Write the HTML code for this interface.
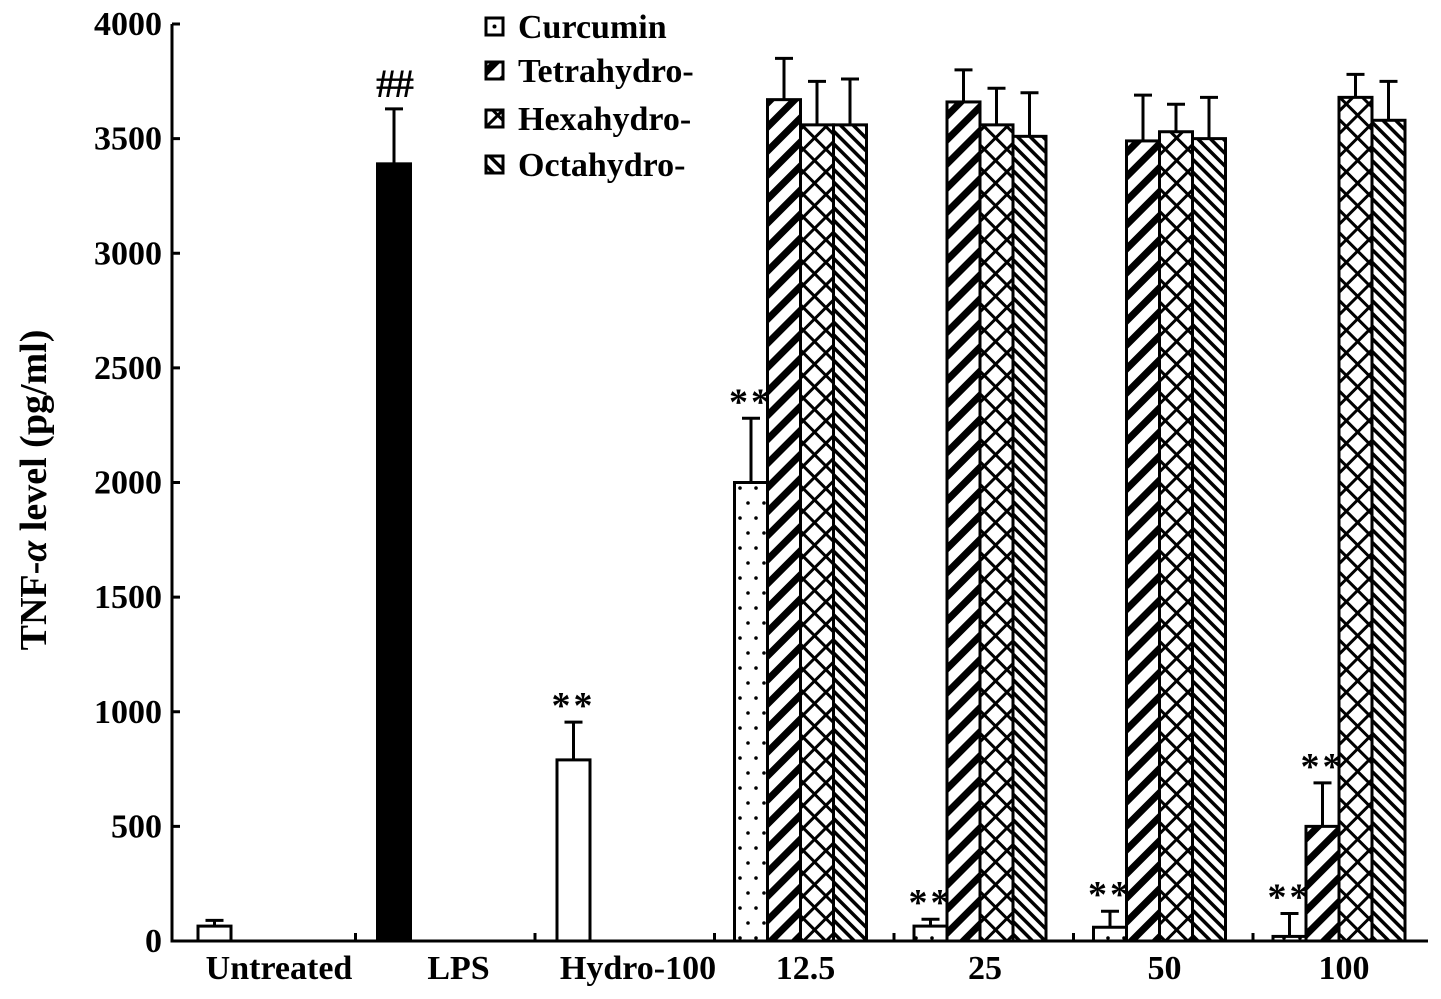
<!DOCTYPE html>
<html><head><meta charset="utf-8"><style>
body{margin:0;background:#fff}
svg{display:block;font-family:"Liberation Serif",serif;font-weight:bold}
</style></head><body>
<svg id="c" width="1441" height="999">
<defs>
<pattern id="pDot" width="16" height="30" patternUnits="userSpaceOnUse"><circle cx="4" cy="8" r="1.8" fill="#000"/><circle cx="12" cy="23" r="1.8" fill="#000"/></pattern>
<pattern id="pTetra" width="17" height="17" patternUnits="userSpaceOnUse" patternTransform="rotate(45)"><rect width="17" height="17" fill="#fff"/><rect width="7" height="17" fill="#000"/></pattern>
<pattern id="pHexa" width="16" height="16" patternUnits="userSpaceOnUse" patternTransform="rotate(45)"><rect width="16" height="16" fill="#fff"/><rect width="3" height="16" fill="#000"/><rect width="16" height="3" fill="#000"/></pattern>
<pattern id="pOcta" width="9" height="9" patternUnits="userSpaceOnUse" patternTransform="rotate(-45)"><rect width="9" height="9" fill="#fff"/><rect width="3.5" height="9" fill="#000"/></pattern>
</defs>
</svg>
<script>
const yTicks=[0,500,1000,1500,2000,2500,3000,3500,4000];
const singleLabels=["Untreated","LPS","Hydro-100"];
const singleVals=[65,3390,790];
const singleErr=[25,240,165];
const singleStars=["","##","**"];
const doseLabels=["12.5","25","50","100"];
const curcumin=[2000,65,60,20];
const curcuminErr=[280,30,70,100];
const tetra=[3670,3660,3490,500];
const tetraErr=[180,140,200,190];
const hexa=[3560,3560,3530,3680];
const hexaErr=[190,160,120,100];
const octa=[3560,3510,3500,3580];
const octaErr=[200,190,180,170];
const doseStars=[["**","","",""],["**","","",""],["**","","",""],["**","**","",""]];
const seriesNames=["Curcumin","Tetrahydro-","Hexahydro-","Octahydro-"];

const svg=document.getElementById('c');
const NS="http://www.w3.org/2000/svg";
function el(t,a,p){const e=document.createElementNS(NS,t);for(const k in a)e.setAttribute(k,a[k]);(p||svg).appendChild(e);return e;}
const X0=172,X1=1428,Y0=941,Y1=24;
const y=v=>Y0-(v/4000)*(Y0-Y1);
const groupStart=i=>X0+i*179.5;
const BW=33;

yTicks.forEach(t=>{
  const tk=el('line',{x1:X0,x2:X0+8,y1:y(t),y2:y(t),stroke:'#000','stroke-width':3});
  
  const tx=el('text',{x:X0-10,y:y(t)+11,'text-anchor':'end','font-size':34});
  tx.textContent=t;
  
});
const yl=el('text',{transform:'translate(46,490) rotate(-90)','text-anchor':'middle','font-size':38});
yl.innerHTML='TNF-<tspan font-style="italic">α</tspan> level (pg/ml)';


function bar(x,v,err,fill,star,name){
  const r=el('rect',{x:x,y:y(v),width:BW,height:Y0-y(v),fill:fill,stroke:'#000','stroke-width':3});
  
  const cx=x+BW/2;
  const e=el('path',{d:`M${cx},${y(v)}V${y(v+err)}M${cx-9},${y(v+err)}H${cx+9}`,stroke:'#000','stroke-width':3,fill:'none'});
  
  if(star){
    const s=el('text',{x:cx,y:y(v+err)-(star=='##'?12:4),'text-anchor':'middle','font-size':star=='##'?40:38,'letter-spacing':star=='##'?-2:3});
    s.textContent=star;
    
  }
}
singleVals.forEach((v,i)=>{
  const x=groupStart(i)+26;
  bar(x,v,singleErr[i],i==1?'#000':'#fff',singleStars[i],'bar-'+singleLabels[i].toLowerCase());
  const t=el('text',{x:groupStart(i)+107,y:979,'text-anchor':'middle','font-size':34});
  t.textContent=singleLabels[i];
  
});
const fills=['url(#pDot)','url(#pTetra)','url(#pHexa)','url(#pOcta)'];
const sv=[curcumin,tetra,hexa,octa],se=[curcuminErr,tetraErr,hexaErr,octaErr];
doseLabels.forEach((d,i)=>{
  const gs=groupStart(i+3)+24;
  for(let s=0;s<4;s++){
    if(s==0) el('rect',{x:gs,y:y(sv[0][i]),width:BW,height:Y0-y(sv[0][i]),fill:'#fff'});
    bar(gs+s*BW,sv[s][i],se[s][i],fills[s],doseStars[i][s],'bar-'+seriesNames[s].replace('-','').toLowerCase()+'-'+d);
  }
  const t=el('text',{x:gs+2*BW+5,y:979,'text-anchor':'middle','font-size':34});
  t.textContent=d;
  
});
const ax=el('path',{d:`M${X0},${Y1}V${Y0}H${X1}`,stroke:'#000','stroke-width':3,fill:'none'});

for(let i=1;i<=6;i++){
  const t=el('line',{x1:groupStart(i)+4,x2:groupStart(i)+4,y1:Y0,y2:Y0-8,stroke:'#000','stroke-width':3});
  
}
const lf=['url(#pDot)','url(#pTetra)','url(#pHexa)','url(#pOcta)'];
const ly=[27,71,119,165];
seriesNames.forEach((n,i)=>{
  const g=el('g',{});
  
  el('rect',{x:486,y:ly[i]-9,width:17,height:17,fill:i==0?'#fff':lf[i],stroke:'#000','stroke-width':3},g);
  if(i==0) el('circle',{cx:494.5,cy:ly[i]-0.5,r:2,fill:'#000'},g);
  const t=el('text',{x:518,y:ly[i]+11,'font-size':34},g);
  t.textContent=n;
});
</script>
</body></html>
